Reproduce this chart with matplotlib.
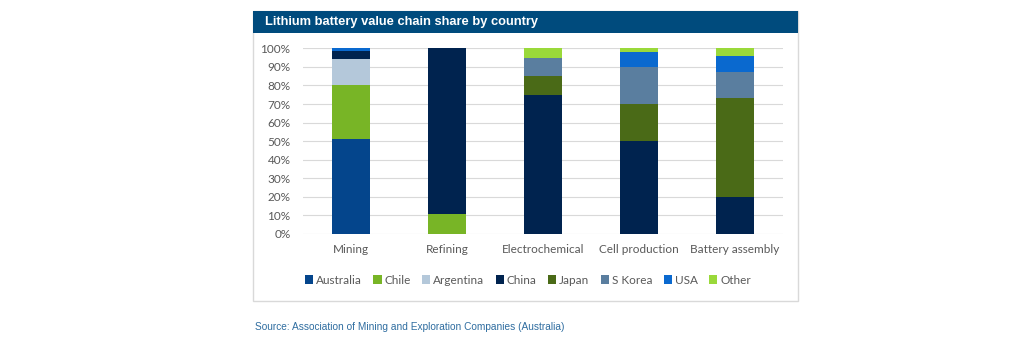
import matplotlib
matplotlib.use("Agg")
import matplotlib.pyplot as plt
from matplotlib.patches import Rectangle, Patch
import numpy as np

categories = ["Mining", "Refining", "Electrochemical", "Cell production", "Battery assembly"]
countries = ["Australia", "Chile", "Argentina", "China", "Japan", "S Korea", "USA", "Other"]
australia = [51, 0, 0, 0, 0]
chile = [29, 11, 0, 0, 0]
argentina = [14, 0, 0, 0, 0]
china = [4.5, 89, 75, 50, 20]
japan = [0, 0, 10, 20, 53]
s_korea = [0, 0, 10, 20, 14]
usa = [1.5, 0, 0, 8, 9]
other = [0, 0, 5, 2, 4]
yticks = [0, 10, 20, 30, 40, 50, 60, 70, 80, 90, 100]

series = [australia, chile, argentina, china, japan, s_korea, usa, other]
colors = ["#04458C", "#78B526", "#B4C8DA", "#00234F", "#4A6A17", "#5A7E9F", "#0A69CF", "#9AD93A"]

W, H = 1024, 347
fig = plt.figure(figsize=(W / 100, H / 100), dpi=100)

def fx(px):
    return px / W

def fy(py):
    return 1 - py / H

# outer box
fig.patches.append(Rectangle((fx(253), fy(301)), fx(798) - fx(253), fy(11) - fy(301),
                             transform=fig.transFigure, facecolor="white",
                             edgecolor="#D9D9D9", linewidth=1.0, zorder=-10))
# title bar
fig.patches.append(Rectangle((fx(253), fy(33)), fx(798) - fx(253), fy(11) - fy(33),
                             transform=fig.transFigure, facecolor="#004B7D",
                             edgecolor="none", zorder=-9))
fig.text(fx(265), fy(22), "Lithium battery value chain share by country",
         color="white", fontsize=9.3, fontweight="bold", family="Liberation Sans",
         va="center", ha="left")

ax = fig.add_axes([fx(303), fy(234), fx(783) - fx(303), fy(48.3) - fy(234)])
ax.set_zorder(5)
ax.patch.set_alpha(0)
x = np.arange(len(categories))
bottom = np.zeros(len(categories))
for name, vals, c in zip(countries, series, colors):
    v = np.array(vals, dtype=float)
    ax.bar(x, v, bottom=bottom, width=0.4, color=c, label=name, zorder=3, linewidth=0)
    bottom += v

ax.set_xlim(-0.5, len(categories) - 0.5)
ax.set_ylim(0, 100)
ax.set_yticks(yticks)
ax.set_yticklabels([f"{t}%" for t in yticks])
ax.set_xticks(x)
ax.set_xticklabels(categories)
ax.yaxis.grid(True, color="#D9D9D9", linewidth=0.8, zorder=0)
ax.set_axisbelow(True)
for s in ax.spines.values():
    s.set_visible(False)
ax.tick_params(axis="both", length=0, labelsize=8.5, labelcolor="#595959")
ax.tick_params(axis="x", pad=7)
ax.tick_params(axis="y", pad=9)
for lbl in ax.get_xticklabels() + ax.get_yticklabels():
    lbl.set_family("Lato")

handles = [Patch(facecolor=c, edgecolor="none", label=n) for n, c in zip(countries, colors)]
leg = fig.legend(handles=handles, loc="center", bbox_to_anchor=(fx(528), fy(280)),
                 ncol=8, frameon=False, handlelength=0.7, handleheight=0.7,
                 handletextpad=0.25, columnspacing=0.95,
                 prop={"family": "Lato", "size": 8.5})
for t in leg.get_texts():
    t.set_color("#595959")

fig.text(fx(255), fy(327), "Source: Association of Mining and Exploration Companies (Australia)",
         color="#2F6DA0", fontsize=7.3, family="Liberation Sans", va="center", ha="left")

fig.savefig("out.png", dpi=100)
